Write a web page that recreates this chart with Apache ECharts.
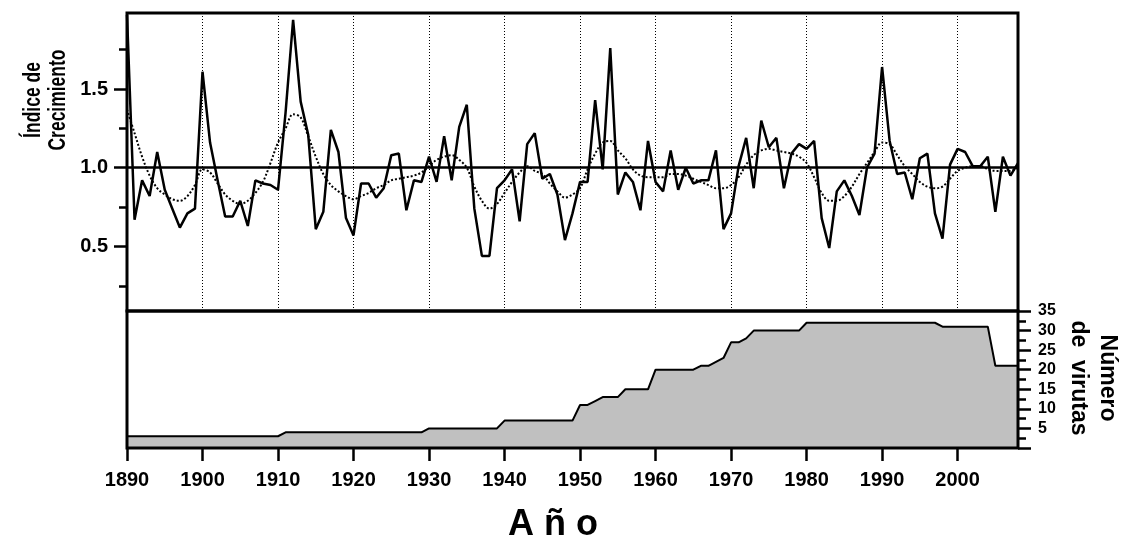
<!DOCTYPE html>
<html>
<head>
<meta charset="utf-8">
<script src="https://cdn.jsdelivr.net/npm/echarts@6/dist/echarts.min.js"></script>
<style>
  html, body { margin: 0; padding: 0; background: #fff; }
  #chart { width: 1123px; height: 543px; }
</style>
</head>
<body>
<div id="chart"></div>
<script>
// Tree-ring growth index per year, 1890-2008
const startYear = 1890;
const growthIndex = [
  1.97, 0.67, 0.92, 0.82, 1.10, 0.86, 0.74, 0.62, 0.71, 0.74,
  1.61, 1.16, 0.92, 0.69, 0.69, 0.79, 0.63, 0.92, 0.90, 0.89,
  0.86, 1.35, 1.94, 1.42, 1.21, 0.61, 0.72, 1.24, 1.10, 0.68,
  0.57, 0.90, 0.90, 0.81, 0.87, 1.08, 1.09, 0.73, 0.92, 0.91,
  1.07, 0.91, 1.20, 0.92, 1.26, 1.40, 0.74, 0.44, 0.44, 0.87,
  0.92, 0.99, 0.66, 1.15, 1.22, 0.93, 0.96, 0.83, 0.54, 0.71,
  0.91, 0.91, 1.43, 0.99, 1.76, 0.83, 0.97, 0.91, 0.73, 1.17,
  0.91, 0.85, 1.11, 0.86, 1.00, 0.90, 0.92, 0.92, 1.11, 0.61,
  0.71, 1.01, 1.19, 0.87, 1.30, 1.13, 1.19, 0.87, 1.09, 1.15,
  1.12, 1.17, 0.68, 0.49, 0.85, 0.92, 0.82, 0.70, 1.00, 1.09,
  1.64, 1.17, 0.96, 0.97, 0.80, 1.06, 1.09, 0.71, 0.55, 1.02,
  1.12, 1.10, 1.01, 1.01, 1.07, 0.72, 1.07, 0.95, 1.03
];

// Smoothed trend of the growth index, 1890-2008
const smoothIndex = [
  1.37, 1.22, 1.07, 0.95, 0.87, 0.83, 0.80, 0.79, 0.82, 0.89,
  0.99, 0.97, 0.90, 0.83, 0.79, 0.77, 0.79, 0.84, 0.91, 1.03,
  1.16, 1.25, 1.34, 1.32, 1.20, 1.07, 0.96, 0.89, 0.85, 0.82,
  0.80, 0.82, 0.84, 0.87, 0.89, 0.92, 0.93, 0.94, 0.95, 0.97,
  1.01, 1.05, 1.07, 1.08, 1.05, 1.00, 0.88, 0.79, 0.74, 0.77,
  0.84, 0.91, 0.97, 1.01, 0.98, 0.96, 0.90, 0.85, 0.81, 0.83,
  0.87, 0.99, 1.09, 1.16, 1.17, 1.11, 1.06, 0.99, 0.95, 0.94,
  0.94, 0.94, 0.96, 0.96, 0.95, 0.93, 0.91, 0.89, 0.87, 0.87,
  0.89, 0.94, 1.02, 1.08, 1.11, 1.12, 1.11, 1.10, 1.09, 1.07,
  1.03, 0.94, 0.84, 0.79, 0.79, 0.82, 0.88, 0.96, 1.03, 1.10,
  1.16, 1.15, 1.08, 1.01, 0.96, 0.91, 0.88, 0.87, 0.88, 0.93,
  0.98, 1.00, 1.01, 1.01, 0.99, 0.98, 0.98, 0.98, 1.00
];

// Number of cores (virutas) available per year, 1890-2008
const coreCount = [
  3, 3, 3, 3, 3, 3, 3, 3, 3, 3,
  3, 3, 3, 3, 3, 3, 3, 3, 3, 3,
  3, 4, 4, 4, 4, 4, 4, 4, 4, 4,
  4, 4, 4, 4, 4, 4, 4, 4, 4, 4,
  5, 5, 5, 5, 5, 5, 5, 5, 5, 5,
  7, 7, 7, 7, 7, 7, 7, 7, 7, 7,
  11, 11, 12, 13, 13, 13, 15, 15, 15, 15,
  20, 20, 20, 20, 20, 20, 21, 21, 22, 23,
  27, 27, 28, 30, 30, 30, 30, 30, 30, 30,
  32, 32, 32, 32, 32, 32, 32, 32, 32, 32,
  32, 32, 32, 32, 32, 32, 32, 32, 31, 31,
  31, 31, 31, 31, 31, 21, 21, 21, 21
];

const yearTicks = [1890, 1900, 1910, 1920, 1930, 1940, 1950, 1960, 1970, 1980, 1990, 2000];
const indexLabelTicks = [0.5, 1.0, 1.5];
const indexMinorTicks = [0.25, 0.75, 1.25, 1.75];

const toPairs = arr => arr.map((v, i) => [startYear + i, v]);

const FONT = "'Liberation Sans', Arial, sans-serif";
const G = { left: 127, width: 891, topA: 13, hA: 298, hB: 137 };

const chart = echarts.init(document.getElementById('chart'), null, { renderer: 'canvas' });

const option = {
  animation: false,
  backgroundColor: '#fff',
  grid: [
    { left: G.left, top: G.topA, width: G.width, height: G.hA },
    { left: G.left, top: G.topA + G.hA, width: G.width, height: G.hB }
  ],
  xAxis: [
    {
      gridIndex: 0, type: 'value', min: 1890, max: 2008, interval: 10,
      axisLine: { show: false }, axisTick: { show: false }, axisLabel: { show: false },
      splitLine: { show: true, lineStyle: { color: '#000', width: 1, type: [1, 2] } }
    },
    {
      gridIndex: 1, type: 'value', min: 1890, max: 2008, interval: 10,
      axisLine: { show: false },
      axisTick: { show: true, customValues: yearTicks, length: 13, lineStyle: { color: '#000', width: 2.5 } },
      axisLabel: {
        show: true, customValues: yearTicks, margin: 22,
        color: '#000', fontFamily: FONT, fontWeight: 'bold', fontSize: 20,
        formatter: v => String(v)
      },
      splitLine: { show: false }
    }
  ],
  yAxis: [
    {
      gridIndex: 0, type: 'value', min: 0.09, max: 1.983, position: 'left',
      axisLine: { show: false },
      axisTick: { show: true, customValues: indexLabelTicks, length: 13, lineStyle: { color: '#000', width: 2.5 } },
      axisLabel: {
        show: true, customValues: indexLabelTicks, margin: 19,
        color: '#000', fontFamily: FONT, fontWeight: 'bold', fontSize: 20,
        formatter: v => v.toFixed(1)
      },
      splitLine: { show: false }
    },
    {
      gridIndex: 0, type: 'value', min: 0.09, max: 1.983, position: 'left',
      axisLine: { show: false },
      axisTick: { show: true, customValues: indexMinorTicks, length: 8, lineStyle: { color: '#000', width: 2.5 } },
      axisLabel: { show: false },
      splitLine: { show: false }
    },
    {
      gridIndex: 1, type: 'value', min: 0, max: 35, interval: 5, position: 'right',
      axisLine: { show: false },
      axisTick: { show: true, length: 13, lineStyle: { color: '#000', width: 2.5 } },
      minorTick: { show: true, splitNumber: 2, length: 8, lineStyle: { color: '#000', width: 2.5 } },
      axisLabel: {
        show: true, showMinLabel: false, margin: 20,
        color: '#000', fontFamily: FONT, fontWeight: 'bold', fontSize: 16
      },
      splitLine: { show: false }
    }
  ],
  series: [
    {
      name: 'Índice de Crecimiento', type: 'line',
      xAxisIndex: 0, yAxisIndex: 0,
      data: toPairs(growthIndex),
      symbol: 'none',
      lineStyle: { color: '#000', width: 2.5 },
      z: 4,
      markLine: {
        silent: true, symbol: 'none', label: { show: false },
        lineStyle: { color: '#000', width: 2.5, type: 'solid' },
        data: [{ yAxis: 1.0 }]
      }
    },
    {
      name: 'Tendencia', type: 'line',
      xAxisIndex: 0, yAxisIndex: 0,
      data: toPairs(smoothIndex),
      symbol: 'none', smooth: 0.35,
      lineStyle: { color: '#000', width: 2, type: [2, 2] },
      z: 3
    },
    {
      name: 'Número de virutas', type: 'line',
      xAxisIndex: 1, yAxisIndex: 2,
      data: toPairs(coreCount),
      symbol: 'none',
      lineStyle: { color: '#000', width: 2 },
      areaStyle: { color: '#c0c0c0', opacity: 1 },
      z: 3
    }
  ],
  graphic: [
    {
      type: 'rect', z: 100, silent: true,
      shape: { x: G.left, y: G.topA, width: G.width, height: G.hA },
      style: { fill: 'none', stroke: '#000', lineWidth: 3 }
    },
    {
      type: 'rect', z: 100, silent: true,
      shape: { x: G.left, y: G.topA + G.hA, width: G.width, height: G.hB },
      style: { fill: 'none', stroke: '#000', lineWidth: 3 }
    },
    {
      // left title, slightly compressed along its reading direction
      type: 'text', z: 100, x: 46, y: 100, rotation: Math.PI / 2, scaleX: 0.76,
      style: {
        text: 'Índice de\nCrecimiento', fill: '#000',
        font: 'bold 23px ' + FONT, lineHeight: 25,
        align: 'center', verticalAlign: 'middle'
      }
    },
    {
      type: 'text', z: 100, x: 1093, y: 378, rotation: -Math.PI / 2,
      style: {
        text: 'Número\nde  virutas', fill: '#000',
        font: 'bold 23px ' + FONT, lineHeight: 29,
        align: 'center', verticalAlign: 'middle'
      }
    },
    {
      type: 'text', z: 100, x: 553, y: 525,
      style: {
        text: 'A ñ o', fill: '#000',
        font: 'bold 36px ' + FONT,
        align: 'center', verticalAlign: 'middle'
      }
    }
  ]
};

chart.setOption(option);
</script>
</body>
</html>
